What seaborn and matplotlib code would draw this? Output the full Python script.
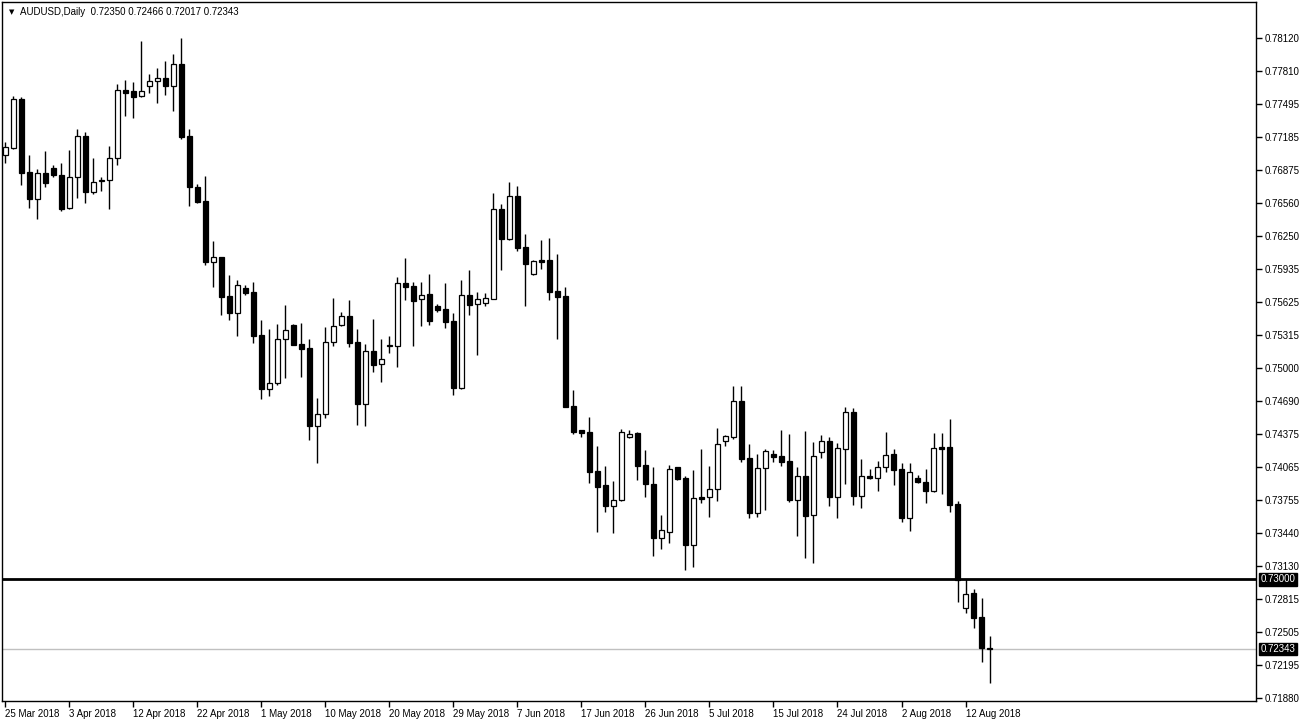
import numpy as np
import pandas as pd
import matplotlib
matplotlib.use("Agg")
import matplotlib.pyplot as plt
import seaborn as sns

symbol = "AUDUSD,Daily"

# daily OHLC, bar 0 = 25 Mar 2018 (Sun) ... bar 123 = 15 Aug 2018
opens = [0.77011, 0.77080, 0.77543, 0.76853, 0.76600, 0.76841, 0.76891, 0.76822, 0.76510, 0.76803,
         0.77190, 0.76667, 0.76770, 0.76774, 0.76982, 0.77625, 0.77616, 0.77569, 0.77663, 0.77710,
         0.77739, 0.77663, 0.77874, 0.77190, 0.76711, 0.76578, 0.76005, 0.76046, 0.75680, 0.75522,
         0.75756, 0.75718, 0.75311, 0.74804, 0.74855, 0.75271, 0.75406, 0.75226, 0.75189, 0.74454,
         0.74562, 0.75243, 0.75409, 0.75491, 0.75245, 0.74662, 0.75160, 0.75035, 0.75205, 0.75211,
         0.75800, 0.75775, 0.75649, 0.75699, 0.75586, 0.75555, 0.75444, 0.74813, 0.75687, 0.75608,
         0.75611, 0.75655, 0.76500, 0.76222, 0.76626, 0.76141, 0.75891, 0.76021, 0.76021, 0.75728,
         0.75680, 0.74640, 0.74413, 0.74394, 0.74026, 0.73893, 0.73698, 0.73749, 0.74350, 0.74385,
         0.74083, 0.73903, 0.73395, 0.73452, 0.74061, 0.73960, 0.73326, 0.73783, 0.73777, 0.73853,
         0.74309, 0.74350, 0.74688, 0.74146, 0.73631, 0.74057, 0.74184, 0.74165, 0.74120, 0.73755,
         0.73976, 0.73613, 0.74203, 0.74310, 0.73783, 0.74237, 0.74584, 0.73792, 0.73976, 0.73963,
         0.74061, 0.74184, 0.74042, 0.73584, 0.73957, 0.73922, 0.73840, 0.74250, 0.74250, 0.73711,
         0.72727, 0.72869, 0.72645, 0.72350]
highs = [0.77134, 0.77571, 0.77562, 0.77014, 0.76878, 0.77051, 0.76919, 0.76938, 0.77061, 0.77259,
         0.77228, 0.76985, 0.76806, 0.77099, 0.77685, 0.77720, 0.77701, 0.78091, 0.77779, 0.77836,
         0.77902, 0.77968, 0.78120, 0.77259, 0.76739, 0.76815, 0.76200, 0.76050, 0.75879, 0.75832,
         0.75784, 0.75813, 0.75453, 0.75368, 0.75416, 0.75595, 0.75416, 0.75425, 0.75274, 0.74716,
         0.75387, 0.75661, 0.75529, 0.75643, 0.75368, 0.75226, 0.75463, 0.75274, 0.75302, 0.75863,
         0.76040, 0.75813, 0.75813, 0.75888, 0.75605, 0.75803, 0.75517, 0.75832, 0.75929, 0.75718,
         0.75706, 0.76654, 0.76550, 0.76758, 0.76720, 0.76266, 0.76018, 0.76210, 0.76229, 0.76078,
         0.75765, 0.74792, 0.74413, 0.74536, 0.74262, 0.74073, 0.73931, 0.74423, 0.74413, 0.74390,
         0.74224, 0.74063, 0.73610, 0.74082, 0.74065, 0.73979, 0.74035, 0.74234, 0.74073, 0.74432,
         0.74369, 0.74832, 0.74829, 0.74278, 0.74187, 0.74231, 0.74224, 0.74411, 0.74376, 0.74061,
         0.74404, 0.74300, 0.74366, 0.74345, 0.74288, 0.74631, 0.74622, 0.74139, 0.74047, 0.74120,
         0.74392, 0.74231, 0.74101, 0.74101, 0.73985, 0.74042, 0.74385, 0.74385, 0.74517, 0.73745,
         0.73000, 0.72910, 0.72825, 0.72466]
lows = [0.76941, 0.77073, 0.76730, 0.76515, 0.76411, 0.76714, 0.76803, 0.76487, 0.76505, 0.76610,
        0.76563, 0.76648, 0.76673, 0.76506, 0.76919, 0.77385, 0.77366, 0.77565, 0.77603, 0.77508,
        0.77581, 0.77432, 0.77165, 0.76534, 0.76560, 0.75974, 0.75768, 0.75504, 0.75453, 0.75305,
        0.75693, 0.75239, 0.74709, 0.74738, 0.74842, 0.74908, 0.75215, 0.74917, 0.74322, 0.74104,
        0.74530, 0.75210, 0.75400, 0.75201, 0.74461, 0.74454, 0.74965, 0.74870, 0.75144, 0.75012,
        0.75643, 0.75211, 0.75397, 0.75409, 0.75529, 0.75378, 0.74744, 0.74800, 0.75504, 0.75122,
        0.75589, 0.75650, 0.75929, 0.76213, 0.76109, 0.75589, 0.75882, 0.75938, 0.75645, 0.75276,
        0.74630, 0.74378, 0.74350, 0.73915, 0.73452, 0.73641, 0.73442, 0.73745, 0.74338, 0.73944,
        0.73782, 0.73225, 0.73285, 0.73342, 0.73944, 0.73089, 0.73121, 0.73726, 0.73594, 0.73745,
        0.74262, 0.74328, 0.74114, 0.73584, 0.73594, 0.73657, 0.74114, 0.74073, 0.73736, 0.73414,
        0.73206, 0.73159, 0.74151, 0.73698, 0.73584, 0.73906, 0.73707, 0.73679, 0.73950, 0.73840,
        0.74019, 0.73890, 0.73541, 0.73461, 0.73915, 0.73726, 0.73830, 0.73811, 0.73641, 0.72790,
        0.72686, 0.72544, 0.72223, 0.72017]
closes = [0.77087, 0.77540, 0.76846, 0.76600, 0.76841, 0.76752, 0.76822, 0.76506, 0.76803, 0.77190,
          0.76667, 0.76755, 0.76778, 0.76982, 0.77625, 0.77603, 0.77565, 0.77616, 0.77710, 0.77739,
          0.77663, 0.77874, 0.77184, 0.76708, 0.76569, 0.76005, 0.76046, 0.75674, 0.75522, 0.75782,
          0.75712, 0.75305, 0.74804, 0.74855, 0.75274, 0.75356, 0.75220, 0.75182, 0.74454, 0.74565,
          0.75243, 0.75394, 0.75488, 0.75239, 0.74662, 0.75157, 0.75031, 0.75082, 0.75215, 0.75800,
          0.75768, 0.75636, 0.75687, 0.75447, 0.75548, 0.75435, 0.74813, 0.75687, 0.75598, 0.75649,
          0.75659, 0.76500, 0.76222, 0.76623, 0.76137, 0.75980, 0.76011, 0.76005, 0.75721, 0.75674,
          0.74634, 0.74397, 0.74388, 0.74019, 0.73877, 0.73698, 0.73749, 0.74394, 0.74373, 0.74076,
          0.73906, 0.73395, 0.73465, 0.74042, 0.73953, 0.73326, 0.73770, 0.73764, 0.73856, 0.74281,
          0.74359, 0.74685, 0.74139, 0.73631, 0.74051, 0.74212, 0.74161, 0.74114, 0.73755, 0.73976,
          0.73603, 0.74165, 0.74307, 0.73783, 0.74240, 0.74581, 0.73792, 0.73976, 0.73963, 0.74061,
          0.74174, 0.74038, 0.73584, 0.74013, 0.73925, 0.73839, 0.74240, 0.74237, 0.73707, 0.72995,
          0.72860, 0.72638, 0.72350, 0.72343]

date_labels = ["25 Mar 2018", "3 Apr 2018", "12 Apr 2018", "22 Apr 2018", "1 May 2018",
               "10 May 2018", "20 May 2018", "29 May 2018", "7 Jun 2018", "17 Jun 2018",
               "26 Jun 2018", "5 Jul 2018", "15 Jul 2018", "24 Jul 2018", "2 Aug 2018",
               "12 Aug 2018"]
price_ticks = [0.78120, 0.77810, 0.77495, 0.77185, 0.76875, 0.76560, 0.76250, 0.75935,
               0.75625, 0.75315, 0.75000, 0.74690, 0.74375, 0.74065, 0.73755, 0.73440,
               0.73130, 0.72815, 0.72505, 0.72195, 0.71880]
level = 0.73000

df = pd.DataFrame({"open": opens, "high": highs, "low": lows, "close": closes})
df["bar"] = np.arange(len(df))
df["bull"] = df["close"] >= df["open"]
df["body_lo"] = df[["open", "close"]].min(axis=1)
df["body_h"] = (df["close"] - df["open"]).abs().clip(lower=0.00002)
bid = df["close"].iloc[-1]

sns.set_theme(style="white")
plt.rcParams["font.family"] = ["Liberation Sans", "DejaVu Sans"]

W, H = 1301, 724
fig, ax = plt.subplots(figsize=(W / 100, H / 100), dpi=100)
fig.subplots_adjust(left=2 / W, right=1256 / W, bottom=23 / H, top=722 / H)

# bid line under everything
ax.axhline(bid, color="#c0c0c0", lw=1, zorder=1)

ax.vlines(df["bar"], df["low"], df["high"], color="black", lw=1, zorder=2)
ax.bar(df["bar"], df["body_h"], bottom=df["body_lo"], width=0.56,
       color=np.where(df["bull"], "white", "black"), edgecolor="black",
       linewidth=0.9, zorder=3)

ax.axhline(level, color="black", lw=2, zorder=4)

ax.set_xlim(-0.41, 156.3)
ax.set_ylim(0.71851, 0.78460)

for s in ax.spines.values():
    s.set_color("black")
    s.set_linewidth(1)

ax.yaxis.tick_right()
ax.set_yticks(price_ticks)
ax.set_yticklabels([f"{v:.5f}" for v in price_ticks])
ax.set_xticks(np.arange(0, 8 * len(date_labels), 8))
ax.set_xticklabels(date_labels)
for lbl in ax.get_xticklabels():
    lbl.set_ha("left")
ax.tick_params(axis="y", right=True, left=False, direction="out", length=4,
               width=1, pad=2, labelsize=7, colors="black")
ax.tick_params(axis="x", bottom=True, direction="out", length=4, width=1,
               pad=2, labelsize=7, colors="black")
ax.set_xlabel("")
ax.set_ylabel("")
ax.grid(False)

# price marker boxes on the right scale
for val in [level, bid]:
    ax.text(1.0035, val, f"{val:.5f}", transform=ax.get_yaxis_transform(),
            ha="left", va="center", fontsize=7, color="white",
            bbox=dict(boxstyle="square,pad=0.15", fc="black", ec="black"))

last = df.iloc[-1]
fig.text(9 / W, 1 - 12 / H, "▼", fontsize=5, family="DejaVu Sans",
         ha="left", va="center", color="black")
fig.text(20 / W, 1 - 12 / H,
         f"{symbol}  {last['open']:.5f} {last['high']:.5f} {last['low']:.5f} {last['close']:.5f}",
         fontsize=7, ha="left", va="center", color="black")

fig.savefig("out.png", dpi=100, facecolor="white")
